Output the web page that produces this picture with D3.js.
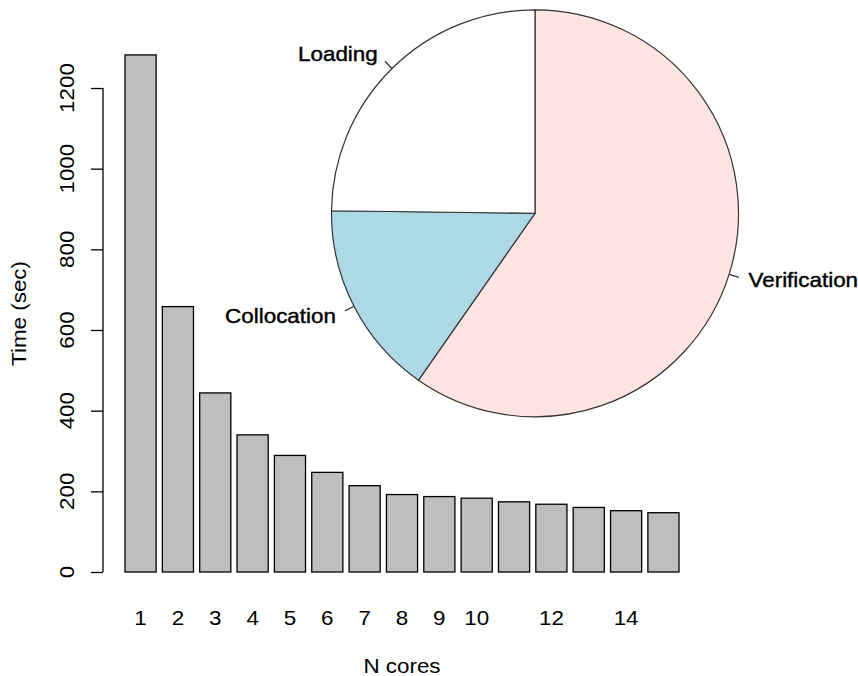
<!DOCTYPE html>
<html lang="en">
<head>
  <title>N cores timing</title>
  <script type="text/javascript" src="https://cdn.jsdelivr.net/npm/d3@7"></script>
  <style>
    body {
      margin: 0px;
      background: white;
    }
    svg {
      display: block;
    }
    text {
      font-family: "Liberation Sans", Arial, sans-serif;
      fill: black;
    }
  </style>
</head>
<body>
  <script type="text/javascript">
    // Data
    var cores = [1, 2, 3, 4, 5, 6, 7, 8, 9, 10, 11, 12, 13, 14, 15];
    var times = [1282, 658, 444, 340, 289, 247, 214, 192, 187, 183, 174, 168, 160, 152, 147];
    // R drops labels that would overlap
    var coreLabels = ["1", "2", "3", "4", "5", "6", "7", "8", "9", "10", "", "12", "", "14", ""];
    var yTicks = [0, 200, 400, 600, 800, 1000, 1200];

    var phases = ["Verification", "Collocation", "Loading"];
    var shares = [59.7, 15.5, 24.8];
    var phaseColours = ["#FFE4E1", "#ADD8E6", "#FFFFFF"];

    // Drawing
    var width = 858;
    var height = 676;
    var fontSize = 20;
    var stretch = 1.12;  // the original glyphs run a bit wider than Liberation Sans

    var svg = d3.select("body").append("svg")
      .attr("width", width)
      .attr("height", height);

    svg.append("rect")
      .attr("width", width)
      .attr("height", height)
      .attr("fill", "white");

    // bar units, as R barplot: width 1, space 0.2
    var barW = 1, space = 0.2;
    var x = d3.scaleLinear()
      .domain([space, cores.length * (barW + space)])
      .range([125, 679]);
    var y = d3.scaleLinear()
      .domain([0, 1200])
      .range([572, 88]);

    var barLeft = function(i) { return space + i * (barW + space); };

    svg.selectAll("rect.bar")
      .data(times)
      .enter().append("rect")
      .attr("class", "bar")
      .attr("x", function(d, i) { return x(barLeft(i)); })
      .attr("y", function(d) { return y(d); })
      .attr("width", function(d, i) { return x(barLeft(i) + barW) - x(barLeft(i)); })
      .attr("height", function(d) { return y(0) - y(d); })
      .attr("fill", "#BEBEBE")
      .attr("stroke", "black")
      .attr("stroke-width", 1.3);

    // Y axis
    var yAxis = d3.axisLeft(y)
      .tickValues(yTicks)
      .tickSize(12)
      .tickFormat("");
    var yAxisG = svg.append("g")
      .attr("transform", "translate(103,0)")
      .call(yAxis);
    yAxisG.selectAll("path, line")
      .attr("stroke", "black")
      .attr("stroke-width", 1.3);
    yAxisG.select("path").attr("d", "M0," + y(1200) + "V" + y(0));

    svg.selectAll("text.ytick")
      .data(yTicks)
      .enter().append("text")
      .attr("class", "ytick")
      .attr("transform", function(d) {
        return "translate(74," + y(d) + ") rotate(-90) scale(" + stretch + ",1)";
      })
      .attr("text-anchor", "middle")
      .style("font-size", fontSize + "px")
      .text(function(d) { return d; });

    // X labels under bars (no axis line, like barplot names)
    svg.selectAll("text.xtick")
      .data(coreLabels)
      .enter().append("text")
      .attr("class", "xtick")
      .attr("transform", function(d, i) {
        return "translate(" + x(barLeft(i) + barW / 2) + ",625) scale(" + stretch + ",1)";
      })
      .attr("text-anchor", "middle")
      .style("font-size", fontSize + "px")
      .text(function(d) { return d; });

    svg.append("text")
      .attr("transform", "translate(" + x((space + cores.length * (barW + space)) / 2) + ",673) scale(" + stretch + ",1)")
      .attr("text-anchor", "middle")
      .style("font-size", fontSize + "px")
      .text("N cores");

    svg.append("text")
      .attr("transform", "translate(26," + y(641) + ") rotate(-90) scale(" + stretch + ",1)")
      .attr("text-anchor", "middle")
      .style("font-size", fontSize + "px")
      .text("Time (sec)");

    // Pie inset, clockwise from 12 o'clock
    var cx = 535, cy = 213.3, radius = 203.5;
    var pie = d3.pie().sort(null);
    var arcs = pie(shares);
    var arc = d3.arc().innerRadius(0).outerRadius(radius);

    var pieG = svg.append("g")
      .attr("transform", "translate(" + cx + "," + cy + ")");

    pieG.selectAll("path")
      .data(arcs)
      .enter().append("path")
      .attr("d", arc)
      .attr("fill", function(d, i) { return phaseColours[i]; })
      .attr("stroke", "#333")
      .attr("stroke-width", 1.2);

    var midAngle = function(d) { return (d.startAngle + d.endAngle) / 2; };

    pieG.selectAll("line.tick")
      .data(arcs)
      .enter().append("line")
      .attr("class", "tick")
      .attr("x1", function(d) { return Math.sin(midAngle(d)) * radius; })
      .attr("y1", function(d) { return -Math.cos(midAngle(d)) * radius; })
      .attr("x2", function(d) { return Math.sin(midAngle(d)) * radius * 1.05; })
      .attr("y2", function(d) { return -Math.cos(midAngle(d)) * radius * 1.05; })
      .attr("stroke", "#333")
      .attr("stroke-width", 1.2);

    pieG.selectAll("text")
      .data(arcs)
      .enter().append("text")
      .attr("transform", function(d) {
        var a = midAngle(d);
        return "translate(" + (Math.sin(a) * radius * 1.1) + "," + (-Math.cos(a) * radius * 1.1) +
          ") scale(" + stretch + ",1)";
      })
      .attr("dy", "0.35em")
      .attr("text-anchor", function(d) { return Math.sin(midAngle(d)) > 0 ? "start" : "end"; })
      .style("font-size", fontSize + "px")
      .style("stroke", "black")
      .style("stroke-width", 0.4)
      .text(function(d, i) { return phases[i]; });
  </script>
</body>
</html>
